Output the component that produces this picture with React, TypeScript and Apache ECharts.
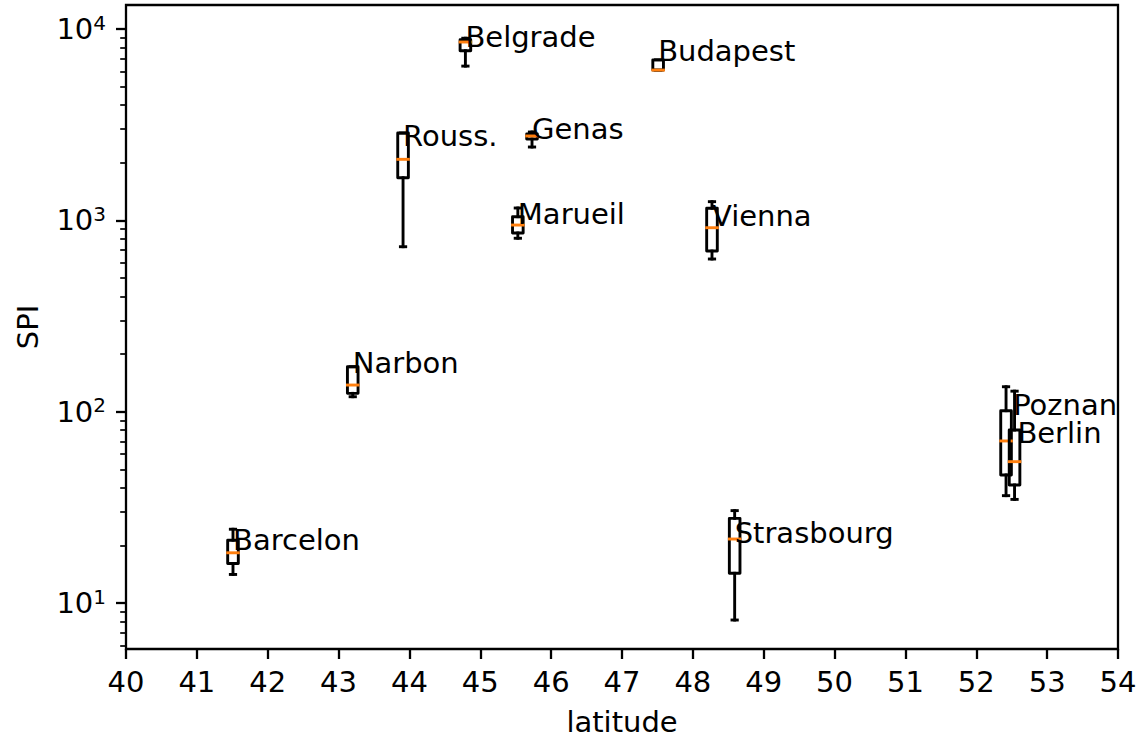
import React, { useEffect, useRef } from "react";
import * as echarts from "echarts";

// ---- data ----
const cities = ["Barcelon", "Narbon", "Rouss.", "Belgrade", "Marueil", "Genas", "Budapest", "Vienna", "Strasbourg", "Poznan", "Berlin"];
const latitudes = [41.51, 43.2, 43.91, 44.79, 45.53, 45.73, 47.51, 48.27, 48.59, 52.42, 52.54];
const whiskerLow = [14.1, 119.7, 728, 6400, 806, 2417, 6100, 628, 8.15, 36.4, 34.8];
const q1 = [16.1, 124.7, 1670, 7700, 859, 2662, 6100, 691, 14.3, 46.7, 41.4];
const medians = [18.3, 137.8, 2084, 8550, 945, 2760, 6100, 915, 21.6, 70.3, 54.8];
const q3 = [21.3, 171.8, 2860, 8800, 1045, 2826, 6900, 1156, 27.7, 101.2, 80.2];
const whiskerHigh = [24.3, 171.8, 2860, 8950, 1160, 2895, 6900, 1252, 30.4, 135, 128];
const labelLat = [41.51, 43.2, 43.91, 44.79, 45.53, 45.73, 47.51, 48.27, 48.59, 52.52, 52.58];
const labelValue = [18.9, 158.7, 2446, 8020, 957, 2651, 6825, 934, 20.5, 96.1, 68.8];

const yMajorTicks = [10, 100, 1000, 10000];
const yMinorTicks = [6, 7, 8, 9, 20, 30, 40, 50, 60, 70, 80, 90, 200, 300, 400, 500, 600, 700, 800, 900, 2000, 3000, 4000, 5000, 6000, 7000, 8000, 9000];
const xMin = 40;
const xMax = 54;
const yMin = 5.75;
const yMax = 13350;
const xTitle = "latitude";
const yTitle = "SPI";

const BOX_WIDTH = 0.15;
const FONT = "DejaVu Sans";
const FS = 29;

export default function App() {
  const ref = useRef<HTMLDivElement>(null);

  useEffect(() => {
    if (!ref.current) return;
    const chart = echarts.init(ref.current, null, { renderer: "svg" });

    const boxData = cities.map((_, i) => [latitudes[i], whiskerLow[i], q1[i], medians[i], q3[i], whiskerHigh[i]]);
    const labelData = cities.map((c, i) => [labelLat[i], labelValue[i], c]);

    const lw = 2.9;
    const renderBox = (_params: any, api: any) => {
      const x = api.value(0);
      const lo = api.value(1), a = api.value(2), m = api.value(3), b = api.value(4), hi = api.value(5);
      const cx = api.coord([x, m])[0];
      const left = api.coord([x - BOX_WIDTH / 2, m])[0];
      const right = api.coord([x + BOX_WIDTH / 2, m])[0];
      const capL = api.coord([x - BOX_WIDTH / 4, m])[0];
      const capR = api.coord([x + BOX_WIDTH / 4, m])[0];
      const yLo = api.coord([x, lo])[1];
      const yA = api.coord([x, a])[1];
      const yM = api.coord([x, m])[1];
      const yB = api.coord([x, b])[1];
      const yHi = api.coord([x, hi])[1];
      const st = { stroke: "#000", lineWidth: lw, fill: "none", lineCap: "square", lineJoin: "round" };
      return {
        type: "group",
        children: [
          { type: "rect", shape: { x: left, y: yB, width: right - left, height: yA - yB }, style: st },
          { type: "line", shape: { x1: cx, y1: yA, x2: cx, y2: yLo }, style: st },
          { type: "line", shape: { x1: cx, y1: yB, x2: cx, y2: yHi }, style: st },
          { type: "line", shape: { x1: capL, y1: yLo, x2: capR, y2: yLo }, style: st },
          { type: "line", shape: { x1: capL, y1: yHi, x2: capR, y2: yHi }, style: st },
          { type: "line", shape: { x1: left, y1: yM, x2: right, y2: yM }, style: { stroke: "#ff7f0e", lineWidth: lw, lineCap: "square" } },
        ],
      };
    };

    const renderLabel = (params: any, api: any) => {
      const p = api.coord([api.value(0), api.value(1)]);
      return {
        type: "text",
        x: p[0],
        y: p[1] - 0.346 * FS,
        style: {
          text: labelData[params.dataIndex][2] as string,
          fontFamily: FONT,
          fontSize: FS,
          fill: "#000",
          align: "left",
          verticalAlign: "middle",
        },
      };
    };

    const gridBox = { left: 126, right: 22, top: 5, bottom: 90, containLabel: false, outerBoundsMode: "none" };

    const option: any = {
      animation: false,
      backgroundColor: "#fff",
      grid: [
        { ...gridBox, show: true, borderColor: "#000", borderWidth: 2.3, backgroundColor: "transparent" },
        { ...gridBox, show: false },
      ],
      graphic: [
        {
          type: "text",
          x: 622,
          y: 721.5,
          z: 10,
          style: { text: xTitle, fontFamily: FONT, fontSize: FS, fill: "#000", align: "center", verticalAlign: "middle" },
        },
        {
          type: "text",
          x: 27.5,
          y: 327,
          rotation: Math.PI / 2,
          z: 10,
          style: { text: yTitle, fontFamily: FONT, fontSize: FS, fill: "#000", align: "center", verticalAlign: "middle" },
        },
      ],
      xAxis: [
        {
          type: "value",
          gridIndex: 0,
          min: xMin,
          max: xMax,
          interval: 1,
          axisLine: { show: false },
          splitLine: { show: false },
          axisTick: { show: true, inside: false, length: 10, lineStyle: { color: "#000", width: 2.3 } },
          axisLabel: { color: "#000", fontFamily: FONT, fontSize: FS, margin: 18 },
        },
        { type: "value", gridIndex: 1, min: xMin, max: xMax, show: false },
      ],
      yAxis: [
        {
          type: "log",
          gridIndex: 0,
          logBase: 10,
          min: yMin,
          max: yMax,
          position: "left",
          axisLine: { show: false },
          splitLine: { show: false },
          axisTick: { show: true, inside: false, length: 10, lineStyle: { color: "#000", width: 2.3 }, customValues: yMajorTicks },
          axisLabel: {
            customValues: yMajorTicks,
            color: "#000",
            fontFamily: FONT,
            fontSize: FS,
            margin: 20,
            formatter: (v: number) => "10{sup|" + Math.round(Math.log10(v)) + "}",
            rich: {
              sup: { fontSize: 20, fontFamily: FONT, color: "#000", verticalAlign: "bottom", padding: [0, 0, 13, 0] },
            },
          },
        },
        {
          type: "log",
          gridIndex: 1,
          logBase: 10,
          min: yMin,
          max: yMax,
          position: "left",
          axisLine: { show: false },
          splitLine: { show: false },
          axisTick: { show: true, inside: false, length: 5.8, lineStyle: { color: "#000", width: 1.7 }, customValues: yMinorTicks },
          axisLabel: { show: false },
        },
      ],
      series: [
        { type: "custom", name: "box", data: boxData, renderItem: renderBox, clip: false, xAxisIndex: 0, yAxisIndex: 0, z: 2 },
        { type: "custom", name: "labels", data: labelData, renderItem: renderLabel, clip: false, xAxisIndex: 0, yAxisIndex: 0, z: 3 },
      ],
    };

    chart.setOption(option);
    return () => chart.dispose();
  }, []);

  return <div ref={ref} style={{ position: "absolute", left: 0, top: 0, width: 1140, height: 739 }} />;
}
